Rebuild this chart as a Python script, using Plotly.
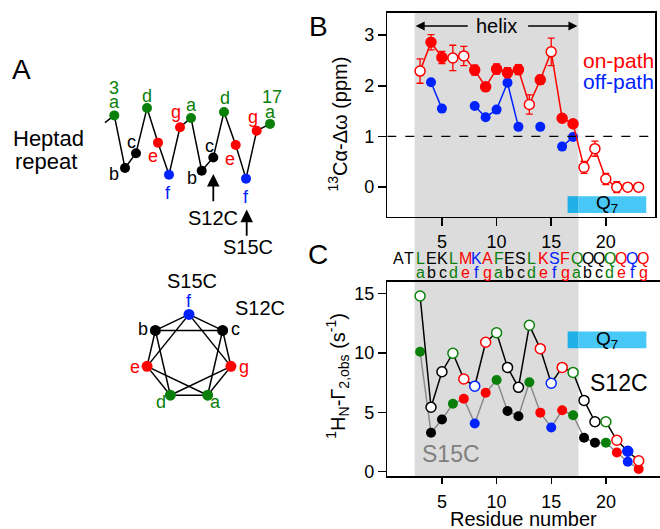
import numpy as np
import plotly.graph_objects as go

FONT = "Liberation Sans, Arial, Helvetica, sans-serif"
RED = "#ff0000"
BLUE = "#0022ff"
GREEN = "#0a800a"
BLACK = "#000000"
GREY_TXT = "#808080"
GREY_LINE = "#8a8a8a"
SHADE = "#dcdcdc"
Q7_DARK = "#1fb0e8"
Q7_LIGHT = "#48c8f6"

HEPTAD_COLOR = {"a": GREEN, "d": GREEN, "e": RED, "g": RED, "f": BLUE, "b": BLACK, "c": BLACK}

# ---------------- data: panel B ----------------
residues = list(range(3, 24))
onpath = [2.29, 2.86, 2.56, 2.55, 2.59, 2.31, 1.98, 2.33, 2.26, 2.32, 1.63,
          2.12, 2.67, 1.36, 1.25, 0.39, 0.76, 0.16, 0.00, 0.00, 0.00]
onpath_err = [0.24, 0.15, 0.12, 0.25, 0.19, 0.10, 0.08, 0.10, 0.10, 0.10, 0.19,
              0.09, 0.27, 0.05, 0.05, 0.12, 0.15, 0.11, 0.11, 0.04, 0.04]
onpath_open = [True, False, False, True, True, False, False, False, False, False, True,
               False, True, False, False, True, True, True, True, True, True]
offpath_res = list(range(4, 18))
offpath = [2.07, 1.55, None, None, 1.60, 1.38, 1.53, 2.06, 1.19, None, 1.19, None, 0.80, 0.99]

# ---------------- data: panel C ----------------
s12c = [14.8, 5.42, 8.42, 9.97, 7.8, 7.2, 10.9, 11.7, 8.78, 7.1, 12.33,
        10.36, 7.45, 8.78, 8.36, 6.0, 4.2, 4.2, 2.64, 1.72, 0.92]
s12c_open = [True] * 19 + [False, True]
s15c = [10.1, 3.28, 4.39, 5.72, 6.14, 4.05, 6.64, 7.72, 5.11, 4.67, 7.53,
        4.97, 3.72, 5.17, 4.75, 2.86, 2.44, 2.44, 1.61, 0.83, 0.22]

heptad = list("abcdefg" * 3)          # residues 3..23
sequence = list("ATLEKLMKAFESLKSFQQQQQQQ")  # residues 1..23
seq_colors = [BLACK, BLACK] + [HEPTAD_COLOR[h] for h in heptad]

helix_range = [2.5, 17.5]
q7_range = [16.5, 23.7]
b_ticks = [0, 1, 2, 3]
c_ticks = [0, 5, 10, 15]
x_ticks = [5, 10, 15, 20]

# ---------------- panel A schematic (pixel coords) ----------------
zig_x = [105, 114.3, 125, 136, 147, 158, 169, 180, 191, 201.7, 213.3, 224, 235.7, 246, 256.7, 270]
zig_y = [124, 116.7, 170, 155, 109.3, 144.3, 176.7, 128.7, 119.3, 172.7, 159.3, 113.3, 146.7, 180.7, 132.3, 125.3]
zig_pos = list("abcdefgabcdefga")
zig_lab_x = [114.3, 114.3, 131.7, 147, 153, 168.3, 176, 191, 192.3, 209, 225, 230, 245.7, 253.3, 270.7]
zig_lab_y = [103.3, 176, 144, 96.7, 157.3, 195, 113.3, 106.7, 180, 147.3, 98.7, 161.3, 199, 118.7, 113.7]
wheel_order = ["f", "c", "g", "a", "d", "e", "b"]
wheel_center = (189, 361)
wheel_r = 43
wheel_lab_x = [189, 235, 244, 215, 161, 135, 143.3]
wheel_lab_y = [304, 332.3, 371.7, 406.7, 406.7, 370.7, 332.3]

fig = go.Figure()

# ---- Panel A zigzag ----
fig.add_trace(go.Scatter(x=zig_x, y=zig_y, mode="lines", line=dict(color=BLACK, width=1.5),
                         xaxis="x3", yaxis="y3", hoverinfo="skip", showlegend=False))
fig.add_trace(go.Scatter(x=zig_x[1:], y=zig_y[1:], mode="markers",
                         marker=dict(size=10, color=[HEPTAD_COLOR[p] for p in zig_pos]),
                         xaxis="x3", yaxis="y3", hoverinfo="skip", showlegend=False))

# ---- Panel A helical wheel ----
ang = np.deg2rad(90 - 360 / 7 * np.arange(7))
wx = wheel_center[0] + wheel_r * np.cos(ang)
wy = wheel_center[1] - wheel_r * np.sin(ang)
lx, ly = [], []
for k in range(7):
    for step in (1, 2):
        j = (k + step) % 7
        lx += [float(wx[k]), float(wx[j]), None]
        ly += [float(wy[k]), float(wy[j]), None]
fig.add_trace(go.Scatter(x=lx, y=ly, mode="lines", line=dict(color=BLACK, width=1.5),
                         xaxis="x3", yaxis="y3", hoverinfo="skip", showlegend=False))
fig.add_trace(go.Scatter(x=wx, y=wy, mode="markers",
                         marker=dict(size=11, color=[HEPTAD_COLOR[p] for p in wheel_order]),
                         xaxis="x3", yaxis="y3", hoverinfo="skip", showlegend=False))

# ---- Panel B ----
fig.add_trace(go.Scatter(x=offpath_res, y=offpath, mode="lines+markers", connectgaps=False,
                         line=dict(color=BLUE, width=1.5), marker=dict(size=10, color=BLUE),
                         xaxis="x", yaxis="y", showlegend=False))
fig.add_trace(go.Scatter(x=residues, y=onpath, mode="lines+markers",
                         line=dict(color=RED, width=1.5),
                         marker=dict(size=10, color=["white" if o else RED for o in onpath_open],
                                     line=dict(color=RED, width=1.5)),
                         error_y=dict(type="data", array=onpath_err, color=RED, thickness=1.3, width=3.5),
                         xaxis="x", yaxis="y", showlegend=False))

# ---- Panel C ----
fig.add_trace(go.Scatter(x=residues, y=s15c, mode="lines+markers",
                         line=dict(color=GREY_LINE, width=1.5),
                         marker=dict(size=10, color=[HEPTAD_COLOR[h] for h in heptad]),
                         xaxis="x2", yaxis="y2", showlegend=False))
fig.add_trace(go.Scatter(x=residues, y=s12c, mode="lines+markers",
                         line=dict(color=BLACK, width=1.5),
                         marker=dict(size=10,
                                     color=["white" if o else HEPTAD_COLOR[h] for o, h in zip(s12c_open, heptad)],
                                     line=dict(color=[HEPTAD_COLOR[h] for h in heptad], width=1.5)),
                         xaxis="x2", yaxis="y2", showlegend=False))

# ---- layout geometry ----
W, H = 660, 529
def px(x):
    return x / W
def py(y):
    return 1 - y / H

shapes = [
    dict(type="rect", xref="x", yref="paper", x0=helix_range[0], x1=helix_range[1],
         y0=py(481.7), y1=py(13), fillcolor=SHADE, line=dict(width=0), layer="below"),
    dict(type="line", xref="x", yref="y", x0=0, x1=24.5, y0=1, y1=1,
         line=dict(color=BLACK, width=1.2, dash="dash"), layer="above"),
]
for xr, yr, y0, y1 in (("x", "y", -0.18, -0.51), ("x2", "y2", 10.4, 11.8)):
    shapes.append(dict(type="rect", xref=xr, yref=yr, x0=q7_range[0], x1=helix_range[1], y0=y0, y1=y1,
                       fillcolor=Q7_DARK, line=dict(width=0), layer="above"))
    shapes.append(dict(type="rect", xref=xr, yref=yr, x0=helix_range[1], x1=q7_range[1], y0=y0, y1=y1,
                       fillcolor=Q7_LIGHT, line=dict(width=0), layer="above"))

ann = []
def A(text, x, y, size=18, color=BLACK, xref="x3", yref="y3", **kw):
    d = dict(text=text, x=x, y=y, xref=xref, yref=yref, showarrow=False,
             xanchor="center", yanchor="middle",
             font=dict(family=FONT, size=size, color=color))
    d.update(kw)
    ann.append(d)

# panel letters
A("A", px(21.7), py(70), size=28, xref="paper", yref="paper")
A("B", px(318), py(27), size=28, xref="paper", yref="paper")
A("C", px(318), py(257), size=28, xref="paper", yref="paper")

# panel A texts
A("Heptad", 48.8, 140, size=22)
A("repeat", 46, 163, size=22)
for t, x, y, p in zip(zig_pos, zig_lab_x, zig_lab_y, zig_pos):
    A(t, x, y, size=18, color=HEPTAD_COLOR[p])
A("3", 114.3, 88.5, size=18, color=GREEN)
A("17", 271.7, 97.7, size=18, color=GREEN)
for t, x, y in zip(wheel_order, wheel_lab_x, wheel_lab_y):
    A(t, x, y, size=18, color=HEPTAD_COLOR[t])
A("S15C", 191.7, 284, size=20)
A("S12C", 260, 311.7, size=20)
A("S12C", 213.3, 220, size=20)
A("S15C", 248.3, 250, size=20)
for xh, ytail, yhead in ((213.3, 205, 176), (246.7, 240, 212)):
    ann.append(dict(text="", x=xh, y=yhead, ax=xh, ay=ytail, xref="x3", yref="y3",
                    axref="x3", ayref="y3", showarrow=True, arrowhead=2, arrowsize=1.4,
                    arrowwidth=1.8, arrowcolor=BLACK))

# panel B texts
A("helix", 10.0, 3.18, size=20, xref="x", yref="y")
for head, tail in ((2.6, 7.5), (17.4, 12.75)):
    ann.append(dict(text="", x=head, y=3.18, ax=tail, ay=3.18, xref="x", yref="y",
                    axref="x", ayref="y", showarrow=True, arrowhead=2, arrowsize=1.2,
                    arrowwidth=1.5, arrowcolor=BLACK))
A("on-path", 17.75, 2.50, size=21, color=RED, xref="x", yref="y", xanchor="left")
A("off-path", 17.75, 2.08, size=21, color=BLUE, xref="x", yref="y", xanchor="left")
A("Q<sub>7</sub>", (q7_range[0] + q7_range[1]) / 2, -0.33, size=19, xref="x", yref="y")
A("<sup>13</sup>Cα-Δω (ppm)", px(338), py(126), size=20, xref="paper", yref="paper", textangle=-90)

# sequence rows
seq_pitch = 1.02
for i, (ch, col) in enumerate(zip(sequence, seq_colors)):
    A(ch, 1 + i * seq_pitch, py(261), size=16, color=col, xref="x", yref="paper")
for i, h in enumerate(heptad):
    A(h, 1 + (i + 2) * seq_pitch, py(276), size=16, color=HEPTAD_COLOR[h], xref="x", yref="paper")

# panel C texts
A("S12C", 18.35, 7.5, size=23, xref="x2", yref="y2", xanchor="left")
A("S15C", 2.95, 1.5, size=23, color=GREY_TXT, xref="x2", yref="y2", xanchor="left")
A("Q<sub>7</sub>", (q7_range[0] + q7_range[1]) / 2, 11.1, size=19, xref="x2", yref="y2")
A("<sup>1</sup>H<sub>N</sub>-Γ<sub>2,obs</sub> (s<sup>-1</sup>)", px(338), py(380), size=20,
  xref="paper", yref="paper", textangle=-90)
A("Residue number", px(523), py(525), size=20, xref="paper", yref="paper")

axis_common = dict(showgrid=False, zeroline=False, showline=True, linecolor=BLACK, linewidth=1.5,
                   ticks="outside", tickwidth=1.5, tickcolor=BLACK,
                   tickfont=dict(family=FONT, size=18, color=BLACK))

fig.update_layout(
    width=W, height=H, autosize=False,
    margin=dict(l=0, r=0, t=0, b=0),
    paper_bgcolor="white", plot_bgcolor="rgba(0,0,0,0)",
    font=dict(family=FONT, color=BLACK),
    showlegend=False,
    xaxis=dict(domain=[px(387.3), px(655)], range=[0, 24.5], tickvals=x_ticks, anchor="y",
               mirror=True, ticklen=8, **axis_common),
    yaxis=dict(domain=[py(219), py(13)], range=[-0.58, 3.44], tickvals=b_ticks, anchor="x",
               mirror=True, ticklen=8, **axis_common),
    xaxis2=dict(domain=[px(387.3), 1.0], range=[0, 24.95], tickvals=x_ticks, anchor="y2",
                mirror=True, ticklen=6, ticklabelstandoff=3, **axis_common),
    yaxis2=dict(domain=[py(481.7), py(285)], range=[-0.39, 16.0], tickvals=c_ticks, anchor="x2",
                mirror=False, ticklen=8, **axis_common),
    xaxis3=dict(domain=[0, px(330)], range=[0, 330], visible=False, anchor="y3"),
    yaxis3=dict(domain=[0, 1], range=[H, 0], visible=False, anchor="x3"),
    shapes=shapes,
    annotations=ann,
)

fig.write_html("out.html", config={"displayModeBar": False, "staticPlot": True},
               post_script="document.body.style.margin='0px';")
